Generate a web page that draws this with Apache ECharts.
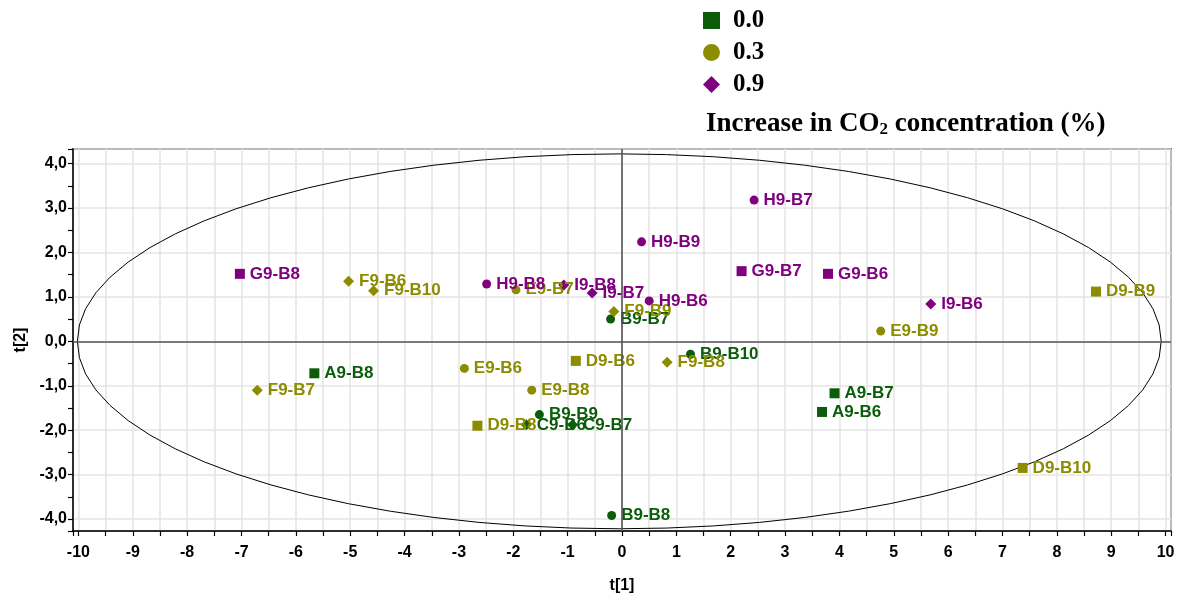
<!DOCTYPE html>
<html><head><meta charset="utf-8">
<script src="https://cdn.jsdelivr.net/npm/echarts@6/dist/echarts.min.js"></script>
<style>html,body{margin:0;padding:0;background:#fff}#c{width:1183px;height:599px}</style>
</head><body><div id="c"></div>
<script>
// Legend groups (increase in CO2 concentration, %)
const groups = ['0.0', '0.3', '0.9'];
const groupColors = ['#0b5d0b', '#8c8c00', '#800080'];
const groupIcons = ['rect', 'circle', 'diamond'];

// Scores t[1], t[2] per sample
const names00 = ['A9-B8','A9-B7','A9-B6','B9-B7','B9-B10','B9-B9','B9-B8','C9-B6','C9-B7'];
const x00 = [-5.66, 3.91, 3.68, -0.21, 1.26, -1.52, -0.19, -1.76, -0.91];
const y00 = [-0.72, -1.17, -1.59, 0.50, -0.29, -1.65, -3.92, -1.88, -1.88];

const names03 = ['D9-B9','D9-B10','D9-B6','D9-B8','E9-B9','E9-B6','E9-B8','E9-B7','F9-B6','F9-B10','F9-B7','F9-B9','F9-B8'];
const x03 = [8.72, 7.37, -0.85, -2.66, 4.76, -2.90, -1.66, -1.95, -5.03, -4.57, -6.71, -0.15, 0.83];
const y03 = [1.12, -2.85, -0.44, -1.90, 0.23, -0.61, -1.10, 1.16, 1.35, 1.14, -1.10, 0.67, -0.47];

const names09 = ['G9-B8','G9-B7','G9-B6','H9-B7','H9-B9','H9-B6','H9-B8','I9-B6','I9-B8','I9-B7'];
const x09 = [-7.03, 2.20, 3.79, 2.43, 0.36, 0.50, -2.49, 5.68, -1.07, -0.55];
const y09 = [1.52, 1.58, 1.52, 3.18, 2.24, 0.91, 1.29, 0.84, 1.27, 1.09];

// Axis ranges
const xMin = -10.1, xMax = 10.1;
const yMin = -4.27, yMax = 4.33;

// Hotelling T2 ellipse (centre and semi-axes)
const ellipseCx = -0.05, ellipseA = 9.97, ellipseB = 4.22;

const shapeByLetter = {A:'rect',D:'rect',G:'rect',B:'circle',E:'circle',H:'circle',C:'diamond',F:'diamond',I:'diamond'};
const sizeByShape = {rect: 10, circle: 9, diamond: 11};

function buildData(names, xs, ys) {
  return names.map((n, i) => {
    const s = shapeByLetter[n[0]];
    return { name: n, value: [xs[i], ys[i]], symbol: s, symbolSize: sizeByShape[s] };
  });
}

const ellipsePts = [];
for (let k = 0; k <= 72; k++) {
  const t = k / 72 * 2 * Math.PI;
  ellipsePts.push([ellipseCx + ellipseA * Math.cos(t), ellipseB * Math.sin(t)]);
}

const sansBold = { fontFamily: 'Liberation Sans, Arial, sans-serif', fontWeight: 'bold' };
const labelFont = Object.assign({ fontSize: 17 }, sansBold);
const serif = 'Liberation Serif, Times New Roman, serif';

const seriesData = [buildData(names00, x00, y00), buildData(names03, x03, y03), buildData(names09, x09, y09)];

const chart = echarts.init(document.getElementById('c'), null, { renderer: 'canvas' });
const isInt = v => Math.abs(v - Math.round(v)) < 1e-6;

chart.setOption({
  animation: false,
  backgroundColor: '#fff',
  grid: { left: 73, right: 12, top: 149, bottom: 67, show: true, borderColor: '#000', borderWidth: 1.5, backgroundColor: 'transparent' },
  legend: {
    orient: 'vertical', left: 698, top: 3,
    itemWidth: 17, itemHeight: 17, itemGap: 7,
    selectedMode: false,
    textStyle: { fontFamily: serif, fontWeight: 'bold', fontSize: 25, color: '#000', lineHeight: 25, padding: [0, 0, 0, 8] },
    data: groups.map((g, i) => ({ name: g, icon: groupIcons[i] }))
  },
  graphic: [{
    type: 'text', left: 706, top: 111, silent: true,
    style: {
      text: '{a|Increase in CO}{s|2}{a| concentration (%)}',
      rich: {
        a: { fontFamily: serif, fontWeight: 'bold', fontSize: 27, lineHeight: 28, fill: '#000' },
        s: { fontFamily: serif, fontWeight: 'bold', fontSize: 17, lineHeight: 10, verticalAlign: 'bottom', fill: '#000' }
      }
    }
  }],
  xAxis: {
    type: 'value', min: xMin, max: xMax, minInterval: 1, maxInterval: 1,
    name: 't[1]', nameLocation: 'middle', nameGap: 47,
    nameTextStyle: Object.assign({ fontSize: 16, color: '#000' }, sansBold),
    axisLine: { onZero: false, lineStyle: { color: '#000', width: 1.5 } },
    axisTick: { show: true, length: 5, lineStyle: { color: '#000', width: 1.2 } },
    minorTick: { show: true, splitNumber: 2, length: 5, lineStyle: { color: '#000', width: 1.2 } },
    axisLabel: Object.assign({ color: '#000', fontSize: 16, margin: 14, showMinLabel: false, showMaxLabel: false,
      formatter: v => isInt(v) ? String(Math.round(v)) : '' }, sansBold),
    splitLine: { show: true, lineStyle: { color: '#e4e4e4', width: 1.5 } },
    minorSplitLine: { show: true, lineStyle: { color: '#e4e4e4', width: 1.5 } }
  },
  yAxis: {
    type: 'value', min: yMin, max: yMax, minInterval: 1, maxInterval: 1,
    name: 't[2]', nameLocation: 'middle', nameGap: 43, nameRotate: 90,
    nameTextStyle: Object.assign({ fontSize: 16, color: '#000' }, sansBold),
    axisLine: { onZero: false, lineStyle: { color: '#000', width: 1.5 } },
    axisTick: { show: true, length: 5, lineStyle: { color: '#000', width: 1.2 } },
    minorTick: { show: true, splitNumber: 2, length: 5, lineStyle: { color: '#000', width: 1.2 } },
    axisLabel: Object.assign({ color: '#000', fontSize: 16, margin: 6, showMinLabel: false, showMaxLabel: false,
      formatter: v => isInt(v) ? v.toFixed(1).replace('.', ',') : '' }, sansBold),
    splitLine: { show: true, lineStyle: { color: '#e4e4e4', width: 1.5 } }
  },
  series: [
    {
      name: 'T2', type: 'line', data: ellipsePts, showSymbol: false, silent: true, z: 1,
      lineStyle: { color: '#000', width: 1 },
      markLine: {
        silent: true, symbol: 'none', label: { show: false },
        lineStyle: { color: '#555', width: 1.6, type: 'solid' },
        data: [{ xAxis: 0 }, { yAxis: 0 }]
      }
    }
  ].concat(groups.map((g, i) => ({
    name: g, type: 'scatter', z: 3,
    symbol: groupIcons[i],
    itemStyle: { color: groupColors[i], opacity: 1 },
    label: Object.assign({ show: true, position: 'right', distance: 5, color: groupColors[i], formatter: p => p.name }, labelFont),
    data: seriesData[i]
  })))
});
</script>
</body></html>
